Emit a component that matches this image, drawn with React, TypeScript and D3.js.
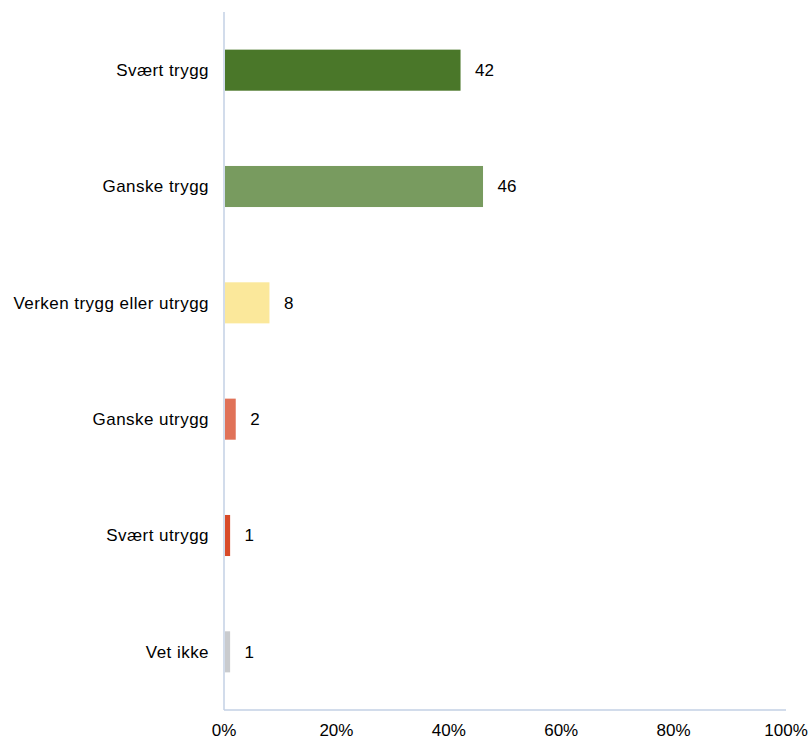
import React from "react";
import * as d3 from "d3";

const categories = [
  "Svært trygg",
  "Ganske trygg",
  "Verken trygg eller utrygg",
  "Ganske utrygg",
  "Svært utrygg",
  "Vet ikke",
];
const values = [42, 46, 8, 2, 1, 1];
const colors = ["#4a7729", "#789b5f", "#fbe89b", "#e07258", "#d84b29", "#c9cbce"];
const xTicks = [0, 20, 40, 60, 80, 100];

export default function App() {
  const W = 812;
  const H = 740;
  const x0 = 224;
  const x1 = 786;
  const yTop = 12;
  const yBot = 710;
  const x = d3.scaleLinear().domain([0, 100]).range([x0, x1]);
  const y = d3
    .scaleBand<string>()
    .domain(categories)
    .range([yTop, yBot])
    .paddingInner(0.647)
    .paddingOuter(0.3235);
  const font = "Liberation Sans, Arial, sans-serif";
  const axisColor = "#c3d1e4";
  const fs = 17;
  return (
    <svg
      width={W}
      height={H}
      style={{ position: "absolute", left: 0, top: 0, background: "#fff" }}
      fontFamily={font}
    >
      {categories.map((c, i) => {
        const yy = y(c)!;
        const bw = y.bandwidth();
        return (
          <g key={c}>
            <rect
              x={x(0) + 1}
              y={yy}
              width={x(values[i]) - x(0) - 0.5}
              height={bw}
              fill={colors[i]}
            />
            <text
              x={x(values[i]) + 15}
              y={yy + bw / 2}
              dy="0.35em"
              fontSize={fs}
              fill="#000"
            >
              {values[i]}
            </text>
            <text
              x={209}
              y={yy + bw / 2}
              dy="0.35em"
              fontSize={fs}
              letterSpacing={0.45}
              textAnchor="end"
              fill="#000"
            >
              {c}
            </text>
          </g>
        );
      })}
      <line x1={x0} x2={x0} y1={yTop} y2={yBot} stroke={axisColor} strokeWidth={1.5} />
      <line x1={x0} x2={x1} y1={yBot} y2={yBot} stroke={axisColor} strokeWidth={1.5} />
      {xTicks.map((t) => (
        <text
          key={t}
          x={x(t)}
          y={735.5}
          fontSize={fs}
          textAnchor="middle"
          fill="#000"
        >
          {t}%
        </text>
      ))}
    </svg>
  );
}
